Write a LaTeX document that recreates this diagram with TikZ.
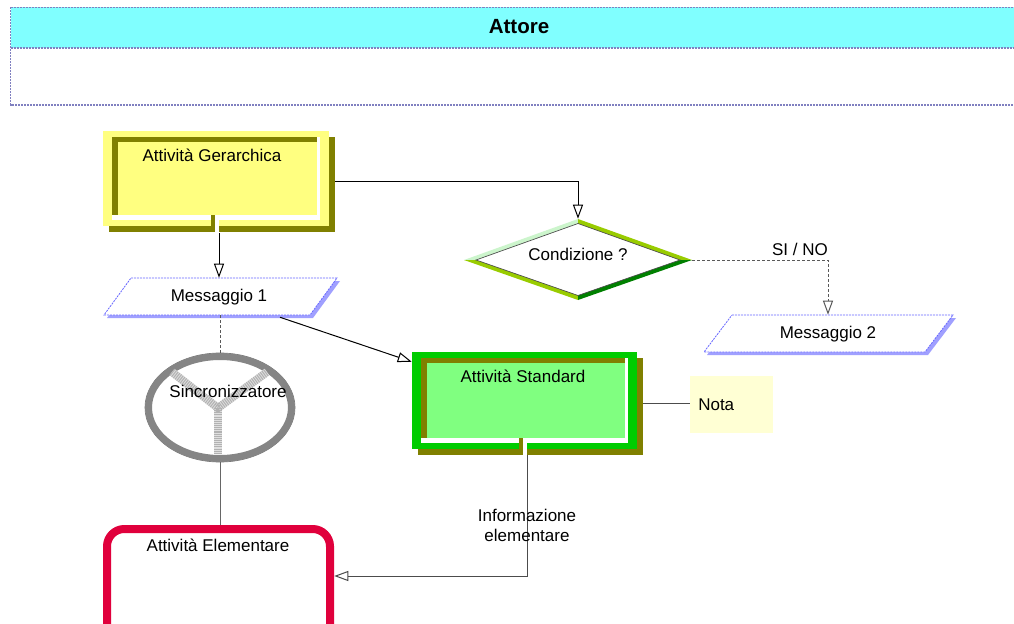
\documentclass[tikz,border=0pt]{standalone}
\usepackage{fontspec}
\setmainfont{Liberation Sans}
\usetikzlibrary{arrows.meta,shapes.geometric,fit,calc}

\definecolor{lanecyan}{HTML}{80FFFF}
\definecolor{laneedge}{HTML}{8080C0}
\definecolor{olivedark}{HTML}{808000}
\definecolor{paleyellow}{HTML}{FFFF80}
\definecolor{stdgreen}{HTML}{00CC00}
\definecolor{lightgreen}{HTML}{80FF80}
\definecolor{notefill}{HTML}{FFFFD4}
\definecolor{msgedge}{HTML}{6666FF}
\definecolor{msgshadow}{HTML}{A0A0FF}
\definecolor{crimson}{HTML}{E0003C}
\definecolor{ringgray}{HTML}{858585}
\definecolor{dpale}{HTML}{CCF5CC}
\definecolor{dlime}{HTML}{99CC00}
\definecolor{ddark}{HTML}{008000}

\tikzset{
  txt/.style={font=\fontsize{12.75}{15}\selectfont, inner sep=0},
  area/.style={inner sep=0, draw=none},
  link/.style={draw=black, line width=0.75pt},
  softlink/.style={draw=black!70, line width=0.75pt},
  dashlink/.style={draw=black!65, line width=0.75pt, dash pattern=on 2.25pt off 1.5pt},
  opentip/.style={-{Triangle[length=10.5pt,width=7.5pt,fill=white]}},
  laneline/.style={draw=laneedge, line width=0.9pt, dash pattern=on 1.5pt off 0.75pt},
  msgline/.style={draw=msgedge, line width=0.6pt, dash pattern=on 1.5pt off 0.75pt},
}

% Raised activity box: shadow, outer band, sunken frame, inner panel, exit notch
% #1,#2 top-left  #3,#4 bottom-right  #5 band colour  #6 panel colour  #7 notch x
\newcommand\bevelbox[7]{%
  \fill[olivedark] (#1+6,#2+6) rectangle (#3+6,#4+6);
  \fill[#5] (#1,#2) rectangle (#3,#4);
  \fill[white] (#1+9,#2+6) rectangle (#3-9,#4-6);
  \fill[olivedark] (#1+9,#2+6) rectangle (#3-12,#4-11);
  \fill[#6] (#1+15,#2+11) rectangle (#3-12,#4-11);
  \fill[olivedark] (#7-4,#4-11) rectangle (#7,#4+6);
  \fill[white] (#7,#4-11) rectangle (#7+4,#4+6);
}

% Message parallelogram with a soft blue shadow
% #1 top-left x  #2 top y  #3 top-right x  #4 bottom y  #5 slant
\newcommand\msgshape[5]{%
  \fill[msgshadow] (#1+3,#2+3) -- (#3+3,#2+3) -- (#3-#5+3,#4+3) -- (#1-#5+3,#4+3) -- cycle;
  \path[fill=white, msgline] (#1,#2) -- (#3,#2) -- (#3-#5,#4) -- (#1-#5,#4) -- cycle;
}

\begin{document}
\begin{tikzpicture}[x=0.75pt, y=-0.75pt]
\clip (0,0) rectangle (1014,624);
\fill[white] (0,0) rectangle (1014,624);

% swim lane
\fill[lanecyan] (10.5,7.5) rectangle (1020,48);
\draw[laneline] (10.5,7.5) rectangle (1020,105);
\draw[laneline] (10.5,48) -- (1020,48);
\node[area, fit={(10.5,7.5)(1020,105)}] (lane) {};
\node[inner sep=0, font=\fontsize{15.4}{18}\selectfont\bfseries] (attore) at (519,27) {Attore};

% hierarchical activity
\bevelbox{103}{131}{329}{226}{paleyellow}{paleyellow}{215}
\node[area, fit={(103,131)(335,233)}] (ger) {};
\node[txt] (gerT) at (212,155) {Attività Gerarchica};

% standard activity
\bevelbox{412}{352}{637}{449}{stdgreen}{lightgreen}{523}
\node[area, fit={(412,352)(643,455)}] (std) {};
\node[txt] (stdT) at (523,376) {Attività Standard};

% note
\fill[notefill] (690,376) rectangle (773,433);
\node[area, fit={(690,376)(773,433)}] (nota) {};
\node[txt, anchor=west] (notaT) at (698,405) {Nota};

% decision diamond
\fill[white] (464,260) -- (578,219) -- (692,260) -- (578,300) -- cycle;
\fill[dpale] (464,260) -- (578,219) -- (578,223.5) -- (476,260) -- cycle;
\fill[dlime] (578,219) -- (692,260) -- (680,260) -- (578,223.5) -- cycle;
\fill[dlime] (464,260) -- (578,300) -- (578,295.5) -- (476,260) -- cycle;
\fill[ddark] (692,260) -- (578,300) -- (578,295.5) -- (680,260) -- cycle;
\draw[black!70, line width=0.5pt] (476,260) -- (578,223.5) -- (680,260) -- (578,295.5) -- cycle;
\node[diamond, inner sep=0, minimum width=171pt, minimum height=61.5pt, aspect=2.78] (cond) at (578,260) {};
\node[txt] (condT) at (578,254) {Condizione ?};

% messages
\msgshape{131}{278}{337}{315}{27}
\node[area, fit={(104,278)(337,315)}] (m1) {};
\node[txt] (m1T) at (219,297) {Messaggio 1};

\msgshape{732}{315}{953}{352}{28}
\node[area, fit={(703,315)(953,352)}] (m2) {};
\node[txt] (m2T) at (828,334) {Messaggio 2};

% synchroniser
\draw[black!55, line width=0.5pt] (220,407.5) ellipse [x radius=75, y radius=54.5];
\draw[ringgray, line width=5.25pt] (220,407.5) ellipse [x radius=71.5, y radius=51];
\draw[gray!25, line width=6pt] (172,372) -- (218,408) -- (267,372);
\draw[gray!25, line width=6pt] (218,405) -- (218,453);
\draw[gray!60, line width=6pt, dash pattern=on 0.8pt off 0.8pt] (172,372) -- (218,408) -- (267,372);
\draw[gray!60, line width=6pt, dash pattern=on 0.8pt off 0.8pt] (218,408) -- (218,453);
\node[ellipse, inner sep=0, minimum width=112.5pt, minimum height=81.75pt] (sync) at (220,407.5) {};
\node[txt] (syncT) at (228,391) {Sincronizzatore};

% elementary activity
\draw[crimson, line width=6pt, rounded corners=13pt] (107,529) rectangle (330,660);
\node[area, fit={(103,525)(334,627)}] (elem) {};
\node[txt] (elemT) at (218,545) {Attività Elementare};

% connectors
\draw[link, opentip] (ger.east) -| (cond.north);
\draw[link, opentip] (ger.south) -- (ger.south |- m1.north);
\draw[link, opentip] ($(m1.south)+(59.5,2)$) -- ($(std.north west)+(0,10)$);
\draw[softlink] (std.east) -- (std.east -| nota.west);
\draw[softlink, opentip] (std.south) |- (elem.east);
\draw[dashlink, opentip] (cond.east) -| (m2.north);
\draw[dashlink] (m1.south) -- (m1.south |- sync.north);
\draw[draw=black!60, line width=0.75pt] (sync.south) -- (sync.south |- elem.north);

% connector labels
\node[txt] (sino) at (800,249) {SI / NO};
\node[txt, align=center] (info) at (527,525) {Informazione\\elementare};
\end{tikzpicture}
\end{document}
